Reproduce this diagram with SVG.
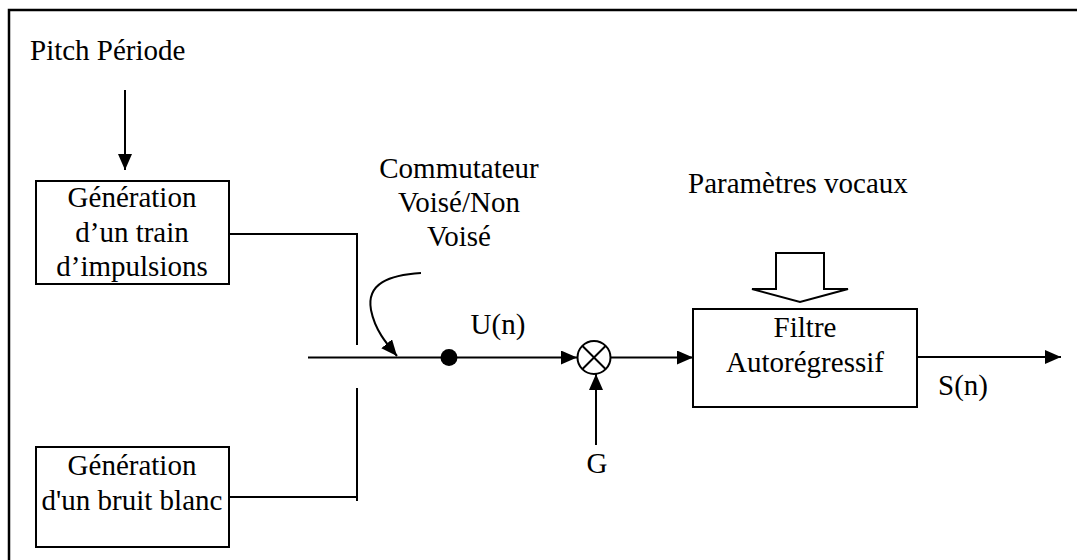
<svg xmlns="http://www.w3.org/2000/svg" width="1077" height="560" viewBox="0 0 1077 560">
<style>
text{font-family:"Liberation Serif","Times New Roman",serif;font-size:29px;fill:#000}
.c{text-anchor:middle}
.ln{stroke:#000;stroke-width:2;fill:none}
.box{stroke:#000;stroke-width:2;fill:#fff}
</style>
<defs>
<marker id="ah" markerUnits="userSpaceOnUse" markerWidth="16" markerHeight="14" refX="16" refY="7" orient="auto">
<path d="M0,0 L16,7 L0,14 z" fill="#000"/>
</marker>
</defs>
<rect x="0" y="0" width="1077" height="560" fill="#fff"/>
<rect x="9" y="10" width="1100" height="600" fill="none" stroke="#000" stroke-width="2.5"/>

<g id="connectors">
<line class="ln" x1="125" y1="90" x2="125" y2="170" marker-end="url(#ah)"/>
<polyline class="ln" points="229,234 357,234 357,345"/>
<polyline class="ln" points="229,497 357,497"/>
<line class="ln" x1="357" y1="388" x2="357" y2="501"/>
<line class="ln" x1="308" y1="357.5" x2="449" y2="357.5"/>
<path class="ln" d="M421,273 C390,275 366,283 371,310 C375,330 386,343 397,356" marker-end="url(#ah)"/>
<line class="ln" x1="449" y1="357.5" x2="577" y2="357.5" marker-end="url(#ah)"/>
<line class="ln" x1="611" y1="357.5" x2="693" y2="357.5" marker-end="url(#ah)"/>
<line class="ln" x1="596" y1="445" x2="596" y2="374" marker-end="url(#ah)"/>
<line class="ln" x1="917" y1="357" x2="1061" y2="357" marker-end="url(#ah)"/>
<polygon points="776,253 824,253 824,289 848,289 800,302 752,289 776,289" fill="#fff" stroke="#000" stroke-width="2"/>
</g>

<g id="pitch">
<text x="30" y="60">Pitch Période</text>
</g>

<g id="train">
<rect class="box" x="36" y="181" width="193" height="103"/>
<text class="c" x="132" y="207">Génération</text>
<text class="c" x="132" y="242">d’un train</text>
<text class="c" x="132" y="276">d’impulsions</text>
</g>

<g id="bruit">
<rect class="box" x="36" y="447" width="193" height="100"/>
<text class="c" x="132" y="475">Génération</text>
<text class="c" x="132" y="510">d'un bruit blanc</text>
</g>

<g id="commutateur">
<text class="c" x="459" y="178">Commutateur</text>
<text class="c" x="459" y="212">Voisé/Non</text>
<text class="c" x="459" y="246">Voisé</text>
</g>

<g id="dot">
<circle cx="449" cy="357.5" r="8.5" fill="#000"/>
<text class="c" x="498" y="334">U(n)</text>
</g>

<g id="mult">
<circle cx="594" cy="357.5" r="16.5" fill="#fff" stroke="#000" stroke-width="2"/>
<line class="ln" x1="582.5" y1="346" x2="605.5" y2="369"/>
<line class="ln" x1="605.5" y1="346" x2="582.5" y2="369"/>
</g>

<g id="gain">
<text class="c" x="597" y="473">G</text>
</g>

<g id="params">
<text x="688" y="193">Paramètres vocaux</text>
</g>

<g id="filtre">
<rect class="box" x="693" y="309" width="224" height="98"/>
<text class="c" x="805" y="337">Filtre</text>
<text class="c" x="805" y="372">Autorégressif</text>
</g>

<g id="sortie">
<text x="938" y="395">S(n)</text>
</g>
</svg>
